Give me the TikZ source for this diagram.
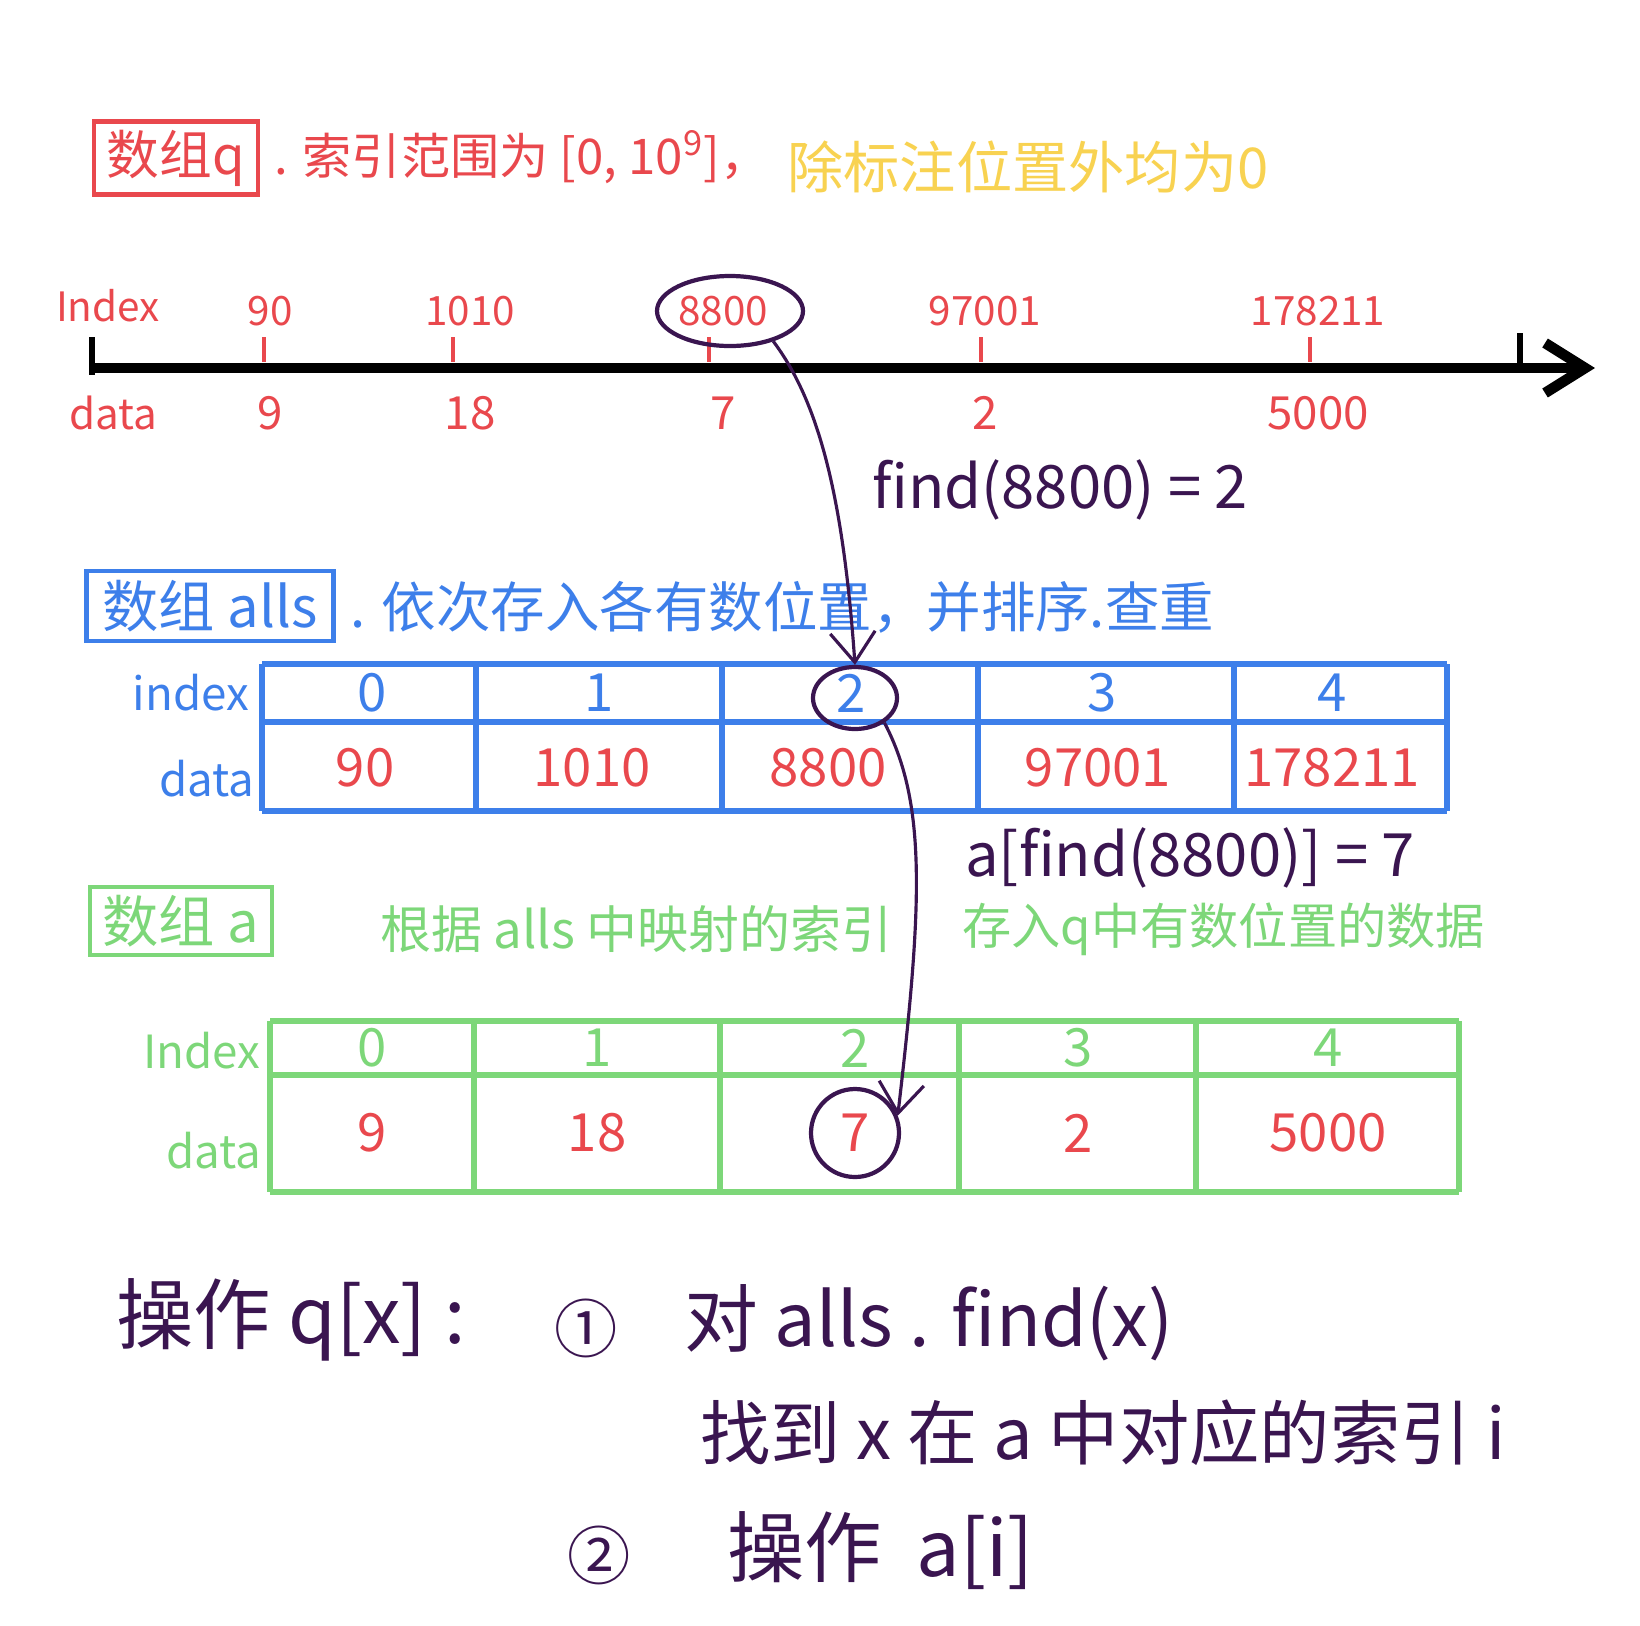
\documentclass[tikz,border=0pt]{standalone}
\usepackage{fontspec}
\setmainfont{Noto Sans CJK SC}
\usetikzlibrary{arrows.meta,shapes.geometric}
\definecolor{qred}{HTML}{E9484D}
\definecolor{qyellow}{HTML}{F8D251}
\definecolor{qblue}{HTML}{3D7FEA}
\definecolor{qgreen}{HTML}{7DD779}
\definecolor{qpurple}{HTML}{3A1550}
\newcommand{\fsz}[1]{\fontsize{#1}{#1}\selectfont}
\begin{document}
\begin{tikzpicture}[x=0.1mm,y=-0.1mm,
  titlebox/.style={draw=#1,text=#1,line width=1.3pt,inner sep=0pt},
  rowlbl/.style={text=#1,font=\fsz{13}},
  cellnum/.style={font=\fsz{15}},
  hilite/.style={draw=qpurple,line width=1.2pt,inner sep=0pt},
  link/.style={draw=qpurple,line width=0.9pt,-{Straight Barb[length=3mm,width=4.5mm]}}]
\useasboundingbox (0,0) rectangle (1640,1626);

% array q on a number line
\node[titlebox=qred,minimum width=16.4mm,minimum height=7.3mm,font=\fsz{15}] (qbox) at (176,158) {数组q};
\node[anchor=west,text=qred,font=\fsz{14}] (qdesc) at (262,157) {. 索引范围为 [0, 10\textsuperscript{9}]，};
\node[anchor=west,text=qyellow,font=\fsz{16}] (qnote) at (775,167) {除标注位置外均为0};

\coordinate (axl) at (92,368);
\coordinate (axr) at (1595,368);
\draw[line width=3pt,-{Straight Barb[length=4mm,width=5mm]}] (axl) -- (axr);
\draw[line width=1.8pt] (92,337) -- (92,375);
\draw[line width=1.8pt] (1520,333) -- (1520,366);

\node[text=qred,font=\fsz{11.5}] (qidx) at (108,306) {Index};
\node[text=qred,font=\fsz{12}] (qdat) at (113,413) {data};
\foreach \t/\x/\i/\v [count=\k] in {264/270/90/9, 453/470/1010/18, 709/723/8800/7, 981/985/97001/2, 1310/1318/178211/5000}{
  \draw[qred,line width=1.1pt] (\t,337) -- (\t,362);
  \node[text=qred,font=\fsz{11.5}] (qi\k) at (\x,311) {\i};
  \node[text=qred,font=\fsz{13}] (qd\k) at (\x,413) {\v};
}
\node[hilite,ellipse,minimum width=14.6mm,minimum height=7mm] (hl8800) at (730,311) {};

\node[text=qpurple,font=\fsz{17}] (find) at (1060,490) {find(8800) = 2};

% array alls
\node[titlebox=qblue,minimum width=24.7mm,minimum height=7mm,font=\fsz{16}] (allsbox) at (210,606) {数组 alls};
\node[anchor=west,text=qblue,font=\fsz{15.5}] (allsdesc) at (338,607) {. 依次存入各有数位置，并排序.查重};

\foreach \x in {262,476,722,978,1234,1447}
  \draw[qblue,line width=1.5pt] (\x,664) -- (\x,811);
\foreach \y in {664,722,811}
  \draw[qblue,line width=1.5pt] (262,\y) -- (1447,\y);
\node[rowlbl=qblue] (aidx) at (191,693) {index};
\node[rowlbl=qblue] (adat) at (207,779) {data};
\foreach \x/\d/\v [count=\k from 0] in {372/365/90, 599/592/1010, 851/828/8800, 1102/1098/97001, 1332/1332/178211}{
  \node[cellnum,text=qblue] (ai\k) at (\x,693) {\k};
  \node[cellnum,text=qred] (ad\k) at (\d,768) {\v};
}
\node[hilite,ellipse,minimum width=8.4mm,minimum height=6.2mm] (hl2) at (855,698) {};

\node[text=qpurple,font=\fsz{17}] (geta) at (1190,858) {a[find(8800)] = 7};

% array a
\node[titlebox=qgreen,minimum width=18.2mm,minimum height=6.8mm,font=\fsz{16}] (abox) at (181,921) {数组 a};
\node[anchor=west,text=qgreen,font=\fsz{14.5}] (adesc1) at (368,929) {根据 alls 中映射的索引};
\node[anchor=west,text=qgreen,font=\fsz{14}] (adesc2) at (950,929) {存入q中有数位置的数据};

\foreach \x in {270,474,720,959,1196,1459}
  \draw[qgreen,line width=1.5pt] (\x,1021) -- (\x,1192);
\foreach \y in {1021,1075,1192}
  \draw[qgreen,line width=1.5pt] (270,\y) -- (1459,\y);
\node[rowlbl=qgreen] (gidx) at (202,1051) {Index};
\node[rowlbl=qgreen] (gdat) at (214,1151) {data};
\foreach \x/\v [count=\k from 0] in {372/9, 597/18, 855/7, 1078/2, 1328/5000}{
  \node[cellnum,text=qgreen] (gi\k) at (\x,1048) {\k};
  \node[cellnum,text=qred] (gd\k) at (\x,1133) {\v};
}
\node[hilite,circle,minimum size=8.8mm] (hl7) at (855,1133) {};

% lookups
\draw[link] (hl8800.-35) .. controls +(45,60) and +(-12,-170) .. (hl2.north);
\draw[link] (hl2.-40) .. controls +(42,80) and +(25,-214) .. (hl7.22);

% how to access q[x]
\node[anchor=west,text=qpurple,font=\fsz{22}] (op) at (104,1320) {操作 q[x] :};
\node[text=qpurple,font=\fsz{18}] (st1) at (586,1328) {①};
\node[anchor=west,text=qpurple,font=\fsz{21}] (st1a) at (672,1323) {对 alls . find(x)};
\node[anchor=west,text=qpurple,font=\fsz{20}] (st1b) at (688,1433) {找到 x 在 a 中对应的索引 i};
\node[text=qpurple,font=\fsz{18}] (st2) at (599,1555) {②};
\node[anchor=west,text=qpurple,font=\fsz{22}] (st2a) at (715,1551) {操作 \ a[i]};
\end{tikzpicture}
\end{document}
